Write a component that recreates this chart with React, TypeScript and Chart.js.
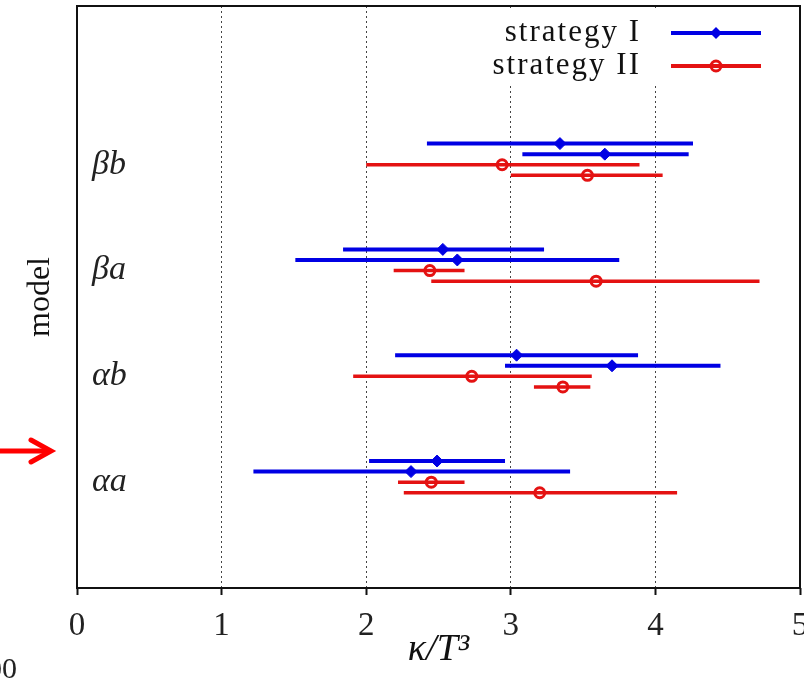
import React, { useEffect, useRef } from 'react';
import { Chart, registerables } from 'chart.js';

Chart.register(...registerables);

// categories (bottom to top) placed at y = 1..4
const categories = ['αa', 'αb', 'βa', 'βb'];
const xTickValues = [0, 1, 2, 3, 4, 5];
const seriesNames = ['strategy I', 'strategy II'];

// two rows per category, order: αa row1, αa row2, αb row1, αb row2, βa ..., βb ...
const s1Center = [2.49, 2.31, 3.04, 3.70, 2.53, 2.63, 3.34, 3.65];
const s1Low = [2.02, 1.22, 2.20, 2.96, 1.84, 1.51, 2.42, 3.08];
const s1High = [2.96, 3.41, 3.88, 4.45, 3.23, 3.75, 4.26, 4.23];

const s2Center = [2.45, 3.20, 2.73, 3.36, 2.44, 3.59, 2.94, 3.53];
const s2Low = [2.22, 2.26, 1.91, 3.16, 2.19, 2.45, 2.00, 3.00];
const s2High = [2.68, 4.15, 3.56, 3.55, 2.68, 4.72, 3.89, 4.05];

const s1RowOffsets = [0.2, 0.1];
const s2RowOffsets = [0.0, -0.1];

const BLUE = 'rgb(0,0,228)';
const RED = 'rgb(228,18,18)';
const SERIF = '"Liberation Serif", "DejaVu Serif", serif';

function buildRows(center: number[], low: number[], high: number[], offs: number[]) {
  const pts: any[] = [];
  center.forEach((c, k) => {
    const y = Math.floor(k / 2) + 1 + offs[k % 2];
    pts.push({ x: low[k], y, m: 0 });
    pts.push({ x: c, y, m: 1 });
    pts.push({ x: high[k], y, m: 0 });
    pts.push({ x: null, y: null, m: 0 });
  });
  return pts;
}

const decorPlugin = {
  id: 'decor',
  afterDatasetsDraw(chart: any) {
    const { ctx, chartArea: a } = chart;
    ctx.save();
    // frame
    ctx.strokeStyle = '#111';
    ctx.lineWidth = 2;
    ctx.setLineDash([]);
    ctx.strokeRect(a.left, a.top, a.right - a.left, a.bottom - a.top);

    // legend (inside, top right)
    ctx.fillStyle = '#fff';
    ctx.fillRect(492, a.top + 4, 278, 76);
    const colors = [BLUE, RED];
    seriesNames.forEach((name, i) => {
      const y = 33 + i * 33;
      ctx.fillStyle = '#111';
      ctx.font = `31px ${SERIF}`;
      ctx.textAlign = 'right';
      ctx.textBaseline = 'middle';
      (ctx as any).letterSpacing = '2px';
      ctx.fillText(name, 641, y);
      (ctx as any).letterSpacing = '0px';
      ctx.strokeStyle = colors[i];
      ctx.lineWidth = 4;
      ctx.beginPath();
      ctx.moveTo(671, y);
      ctx.lineTo(761, y);
      ctx.stroke();
      const mx = 716;
      if (i === 0) {
        ctx.fillStyle = BLUE;
        ctx.beginPath();
        ctx.moveTo(mx - 6, y);
        ctx.lineTo(mx, y - 6);
        ctx.lineTo(mx + 6, y);
        ctx.lineTo(mx, y + 6);
        ctx.closePath();
        ctx.fill();
      } else {
        ctx.lineWidth = 3;
        ctx.beginPath();
        ctx.arc(mx, y, 5, 0, Math.PI * 2);
        ctx.stroke();
      }
    });

    // red arrow at the left edge
    ctx.strokeStyle = 'rgb(255,0,0)';
    ctx.lineWidth = 5;
    ctx.lineCap = 'round';
    ctx.lineJoin = 'miter';
    ctx.beginPath();
    ctx.moveTo(-2, 451);
    ctx.lineTo(49, 451);
    ctx.stroke();
    ctx.beginPath();
    ctx.moveTo(31, 440);
    ctx.lineTo(51, 451);
    ctx.lineTo(31, 462);
    ctx.stroke();

    // partially visible text at bottom-left edge
    ctx.save();
    ctx.beginPath();
    ctx.rect(0, 640, 17, 50);
    ctx.clip();
    ctx.fillStyle = '#222';
    ctx.font = `30px ${SERIF}`;
    ctx.textAlign = 'left';
    ctx.textBaseline = 'middle';
    ctx.fillText('00', -13, 670);
    ctx.restore();

    ctx.restore();
  },
};

export default function App() {
  const ref = useRef<HTMLCanvasElement | null>(null);

  useEffect(() => {
    document.body.style.margin = '0';
    if (!ref.current) return;
    const chart = new Chart(ref.current, {
      type: 'scatter',
      data: {
        datasets: [
          {
            label: seriesNames[0],
            data: buildRows(s1Center, s1Low, s1High, s1RowOffsets),
            showLine: true,
            spanGaps: false,
            borderColor: BLUE,
            borderWidth: 4,
            pointStyle: 'rectRot',
            pointRadius: (c: any) => (c.raw && c.raw.m ? 6 : 0),
            pointBackgroundColor: BLUE,
            pointBorderColor: BLUE,
            pointBorderWidth: 1,
          },
          {
            label: seriesNames[1],
            data: buildRows(s2Center, s2Low, s2High, s2RowOffsets),
            showLine: true,
            spanGaps: false,
            borderColor: RED,
            borderWidth: 3.5,
            pointStyle: 'circle',
            pointRadius: (c: any) => (c.raw && c.raw.m ? 5 : 0),
            pointBackgroundColor: 'rgba(0,0,0,0)',
            pointBorderColor: RED,
            pointBorderWidth: 3,
          },
        ] as any,
      },
      options: {
        animation: false,
        responsive: true,
        maintainAspectRatio: false,
        layout: { padding: { top: 6, right: 4, left: 0, bottom: 0 }, autoPadding: false } as any,
        plugins: {
          legend: { display: false },
          tooltip: { enabled: false },
        },
        scales: {
          x: {
            type: 'linear',
            min: 0,
            max: 5,
            afterBuildTicks: (s: any) => {
              s.ticks = xTickValues.map((v) => ({ value: v }));
            },
            afterFit: (s: any) => {
              s.height = 105;
              s.paddingLeft = 0;
              s.paddingRight = 0;
            },
            ticks: {
              color: '#222',
              font: { family: SERIF, size: 33 },
              padding: 12,
              maxRotation: 0,
              callback: (v: any) => String(v),
            },
            grid: {
              color: (c: any) =>
                c.tick && (c.tick.value === 0 || c.tick.value === 5) ? 'rgba(0,0,0,0)' : '#444',
              lineWidth: 1,
              drawTicks: true,
              tickLength: 7,
              tickColor: '#111',
              tickWidth: 2,
            },
            border: { display: false, dash: [2, 3] },
            title: {
              display: true,
              text: 'κ/T³',
              color: '#111',
              font: { family: SERIF, size: 38, style: 'italic' },
              padding: { top: 0, bottom: 20 },
            },
          },
          y: {
            type: 'linear',
            min: 0,
            max: 5.5,
            afterBuildTicks: (s: any) => {
              s.ticks = categories.map((_, i) => ({ value: i + 1 }));
            },
            afterFit: (s: any) => {
              s.width = 77;
              s.paddingTop = 0;
              s.paddingBottom = 0;
            },
            ticks: {
              mirror: true,
              padding: 15,
              color: '#222',
              font: { family: SERIF, size: 34, style: 'italic' },
              callback: (v: any) => categories[Math.round(v) - 1] ?? '',
            },
            grid: { display: false },
            border: { display: false },
            title: {
              display: true,
              text: 'model',
              color: '#111',
              font: { family: SERIF, size: 32 },
              padding: { top: 21, bottom: 0 },
            },
          },
        },
      } as any,
      plugins: [decorPlugin],
    });
    return () => chart.destroy();
  }, []);

  return (
    <div style={{ position: 'relative', width: 804, height: 693 }}>
      <canvas ref={ref} />
    </div>
  );
}
